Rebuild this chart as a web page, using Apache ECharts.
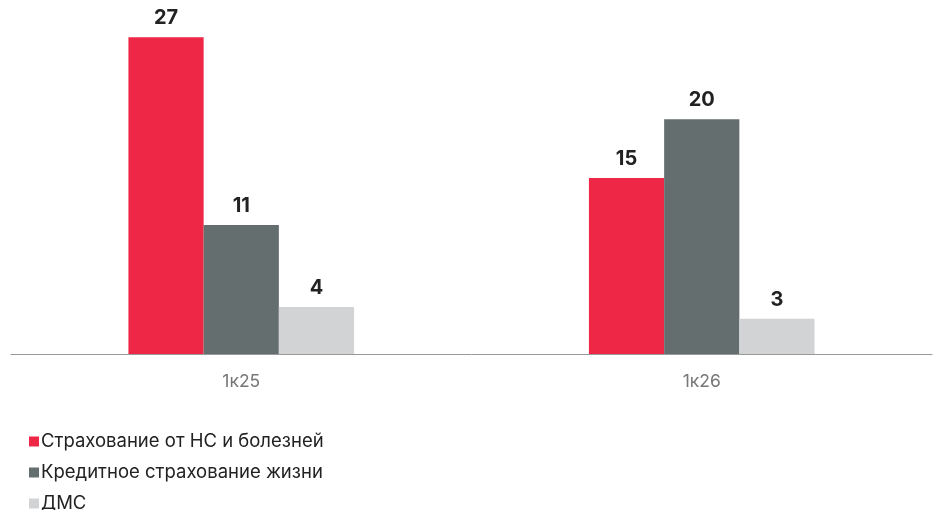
<!DOCTYPE html>
<html>
<head>
<meta charset="utf-8">
<script src="https://cdn.jsdelivr.net/npm/echarts@6/dist/echarts.min.js"></script>
<style>
	html, body { margin: 0; padding: 0; background: #fff; }
	#main { width: 936px; height: 510px; }
</style>
</head>
<body>
<div id="main"></div>
<script>
	// категории и значения
	var categories = ['1к25', '1к26'];
	var seriesNames = ['Страхование от НС и болезней', 'Кредитное страхование жизни', 'ДМС'];
	var accidentData = [27, 15];
	var creditLifeData = [11, 20];
	var dmsData = [4, 3];
	var colors = ['#ee2746', '#646e6e', '#d2d3d5'];

	var myChart = echarts.init(document.getElementById('main'));

	function barSeries(name, data, color) {
		return {
			name: name,
			type: 'bar',
			data: data,
			barGap: '0%',
			barCategoryGap: '51%',
			itemStyle: { color: color },
			label: {
				show: true,
				position: 'top',
				distance: 9,
				color: '#222',
				fontSize: 20,
				fontWeight: 'bold',
				fontFamily: 'Inter'
			}
		};
	}

	myChart.setOption({
		animation: false,
		color: colors,
		grid: { left: 11, right: 4, top: 2, bottom: 156, containLabel: false },
		legend: {
			orient: 'vertical',
			left: 24,
			top: 427,
			height: 100,
			itemWidth: 10,
			itemHeight: 10,
			itemGap: 12,
			icon: 'rect',
			textStyle: { color: '#222', fontSize: 18.5, fontFamily: 'Inter', padding: [0, 0, 0, -3] },
			data: seriesNames
		},
		xAxis: {
			type: 'category',
			data: categories,
			axisLine: { lineStyle: { color: '#9a9a9a', width: 1 } },
			axisTick: { show: false },
			axisLabel: { color: '#777', fontSize: 17.5, fontFamily: 'Inter', margin: 19 }
		},
		yAxis: {
			type: 'value',
			min: 0,
			max: 30,
			show: false,
			splitLine: { show: false }
		},
		series: [
			barSeries(seriesNames[0], accidentData, colors[0]),
			barSeries(seriesNames[1], creditLifeData, colors[1]),
			barSeries(seriesNames[2], dmsData, colors[2])
		]
	});
</script>
</body>
</html>
